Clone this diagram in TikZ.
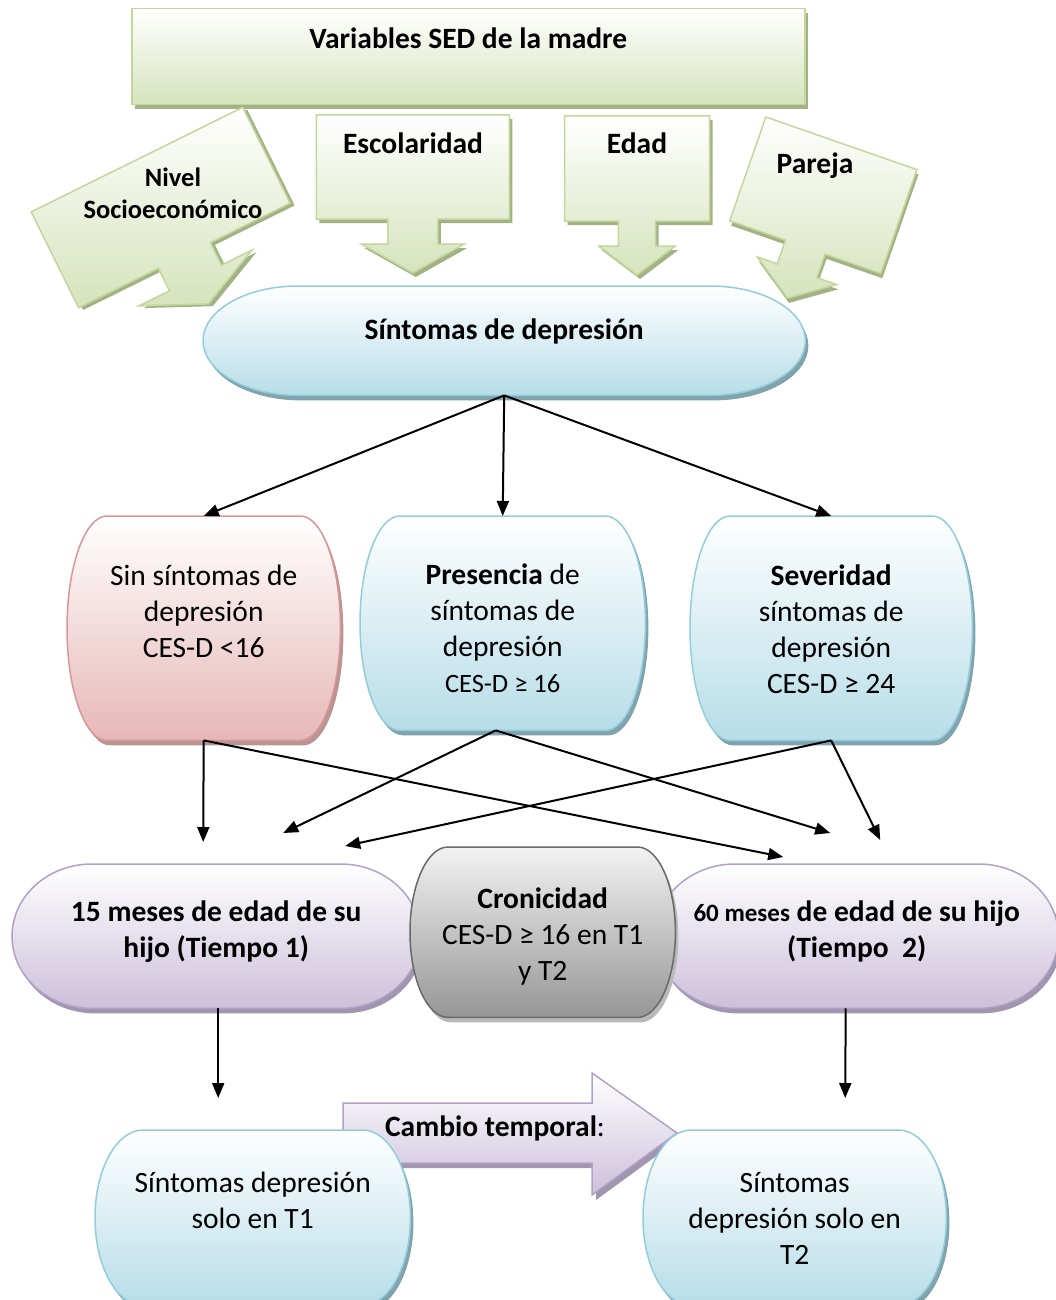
\documentclass[tikz,border=0pt]{standalone}
\usepackage{fontspec}
\setmainfont{Carlito}
\usepackage{xcolor}
\definecolor{greenline}{RGB}{195,214,155}
\definecolor{greenbot}{RGB}{214,227,188}
\definecolor{greenshade}{RGB}{163,178,133}
\definecolor{blueline}{RGB}{146,205,220}
\definecolor{bluebot}{RGB}{183,221,232}
\definecolor{blueshade}{RGB}{128,163,173}
\definecolor{pinkline}{RGB}{217,150,148}
\definecolor{pinkbot}{RGB}{230,184,183}
\definecolor{pinkshade}{RGB}{184,148,147}
\definecolor{purpleline}{RGB}{178,161,199}
\definecolor{purplebot}{RGB}{204,192,218}
\definecolor{purpleshade}{RGB}{160,150,176}
\definecolor{greyline}{RGB}{105,105,105}
\definecolor{greybot}{RGB}{150,150,150}
\definecolor{greyshade}{RGB}{185,185,185}
\usepackage{tikz}
\usetikzlibrary{positioning,arrows.meta,calc,backgrounds,shadows}

%% capsule outline round a named node: node, x radius, x offset, y offset
\newcommand{\capsule}[4]{%
  let \p1=(#1.north west), \p2=(#1.south east), \n1={(\y1-\y2)/2} in
  (\x1+#2+#3,\y1+#4) -- (\x2-#2+#3,\y1+#4)
  arc[start angle=90, end angle=-90, x radius=#2pt, y radius=\n1]
  -- (\x1+#2+#3,\y2+#4)
  arc[start angle=270, end angle=90, x radius=#2pt, y radius=\n1] -- cycle}

%% block arrow callout, origin in the middle of its top side
\newcommand{\calloutpath}[6]{%
  (-#1/2,0) -- (#1/2,0) -- (#1/2,-#2) -- (#3,-#2) -- (#3,-#2-#5)
  -- (#4,-#2-#5) -- (0,-#2-#5-#6) -- (-#4,-#2-#5) -- (-#3,-#2-#5)
  -- (-#3,-#2) -- (-#1/2,-#2) -- cycle}

\begin{document}
\begin{tikzpicture}[
  x=1pt, y=1pt,
  font=\fontsize{29.5}{36}\selectfont,
  every node/.style={inner sep=0pt, align=flush center},
  bold/.style={font=\fontsize{29.5}{36}\selectfont\bfseries},
  capbox/.style={anchor=north west},
  shapegreen/.style={top color=white, bottom color=greenbot, draw=greenline, line width=1.5pt},
  shapeblue/.style={top color=white, bottom color=bluebot, draw=blueline, line width=1.5pt},
  shapepink/.style={top color=white, bottom color=pinkbot, draw=pinkline, line width=1.5pt},
  shapepurple/.style={top color=white, bottom color=purplebot, draw=purpleline, line width=1.5pt},
  shapegrey/.style={top color=white!95!black, bottom color=greybot, draw=greyline, line width=1.5pt},
  arrow/.style={-{Triangle[length=15pt,width=12pt]}, line width=2pt, black}
]
\useasboundingbox (0,0) rectangle (1055,-1300);

%% Variables SED de la madre
\node (sed) [capbox, bold, text width=673pt, text height=40pt, text depth=56pt,
    shapegreen, drop shadow={shadow xshift=3pt, shadow yshift=-4pt, fill=greenshade, opacity=1}]
    at (131,-8) {Variables SED de la madre};

%% the four variables as block arrows
\foreach \cx/\cy/\rot/\bw/\bh/\sw/\hw in {137/-159.6/26.3/236/107/29/63,
    412.8/-115/0/193/104/25/51.5, 637/-116/0/145/105/18.7/38.4,
    841.4/-143.3/-19.2/160/110/21/42}{
  \begin{scope}[shift={(\cx,\cy)}, rotate=\rot]
    \fill[greenshade, shift={(3,-4)}] \calloutpath{\bw}{\bh}{\sw}{\hw}{25}{29};
    \path[shapegreen] \calloutpath{\bw}{\bh}{\sw}{\hw}{25}{29};
  \end{scope}
}
\node (nse) [font=\fontsize{26.5}{32}\selectfont\bfseries] at (173,-193) {Nivel\\Socioeconómico};
\node (esc) [bold] at (413,-143) {Escolaridad};
\node (edad) [bold] at (637,-143) {Edad};
\node (par) [bold] at (815,-166) {Pareja};

%% Síntomas de depresión
\node (sd) [capbox, bold, text width=602pt, text height=53pt, text depth=56pt]
    at (203,-286) {Síntomas de depresión};

%% categories
\node (sin) [capbox, text width=273pt, text height=69pt, text depth=155pt]
    at (67,-516) {Sin síntomas de\\depresión\\CES-D <16};
\node (pres) [capbox, text width=285pt, text height=68pt, text depth=146pt]
    at (360,-516) {\textbf{Presencia} de\\síntomas de\\depresión\\{\fontsize{26.5}{34}\selectfont CES-D ≥ 16}};
\node (sev) [capbox, text width=282pt, text height=69pt, text depth=155pt]
    at (690,-516) {\textbf{Severidad}\\síntomas de\\depresión\\CES-D ≥ 24};

%% times
\node (t1) [capbox, bold, text width=408pt, text height=57pt, text depth=87pt]
    at (12,-864) {15 meses de edad de su\\hijo (Tiempo 1)};
\node (t2) [capbox, bold, text width=403pt, text height=57pt, text depth=87pt]
    at (655,-864) {{\fontsize{25}{36}\selectfont 60 meses} de edad de su hijo\\(Tiempo\ \ 2)};
\node (cron) [capbox, text width=265pt, text height=61pt, text depth=109pt]
    at (410,-847) {\textbf{Cronicidad}\\CES-D ≥ 16 en T1\\y T2};

%% change over time
\node (s1) [capbox, text width=315pt, text height=62pt, text depth=113pt]
    at (95,-1130) {Síntomas depresión\\solo en T1};
\node (s2) [capbox, text width=303pt, text height=62pt, text depth=113pt]
    at (643,-1130) {Síntomas\\depresión solo en\\T2};
\node (cambio) at (495,-1128) {\textbf{Cambio temporal}:};

%% shapes behind the texts
\begin{scope}[on background layer]
  \foreach \nd/\rx/\col in {sd/95/blue, sin/40/pink, pres/40/blue, sev/40/blue,
      t1/80/purple, t2/80/purple, cron/38/grey}{
    \fill[\col shade] \capsule{\nd}{\rx}{3}{-5};
    \path[shape\col] \capsule{\nd}{\rx}{0}{0};
  }
  \fill[purpleshade] (347,-1108) -- (596,-1108) -- (596,-1078) -- (681,-1138)
    -- (596,-1200) -- (596,-1168) -- (347,-1168) -- cycle;
  \path[shapepurple] (343,-1103) -- (592,-1103) -- (592,-1073) -- (677,-1133)
    -- (592,-1195) -- (592,-1163) -- (343,-1163) -- cycle;
  \foreach \nd in {s1, s2}{
    \fill[blueshade] \capsule{\nd}{48}{3}{-5};
    \path[shapeblue] \capsule{\nd}{48}{0}{0};
  }
\end{scope}

%% Arrows: síntomas -> categories
\draw[arrow] (sd.south) -- (sin.north);
\draw[arrow] (sd.south) -- (pres.north);
\draw[arrow] (sd.south) -- (sev.north);

%% Arrows: categories -> times
\draw[arrow] (sin.south) -- ($(t1.north)+(-13,22)$);
\draw[arrow] (sin.south) -- ($(t2.north)+(-73.5,7)$);
\draw[arrow] ($(pres.south)+(-7,0)$) -- ($(t1.north)+(67,31)$);
\draw[arrow] ($(pres.south)+(-7,0)$) -- ($(t2.north)+(-26.5,31)$);
\draw[arrow] (sev.south) -- ($(t1.north)+(129,18)$);
\draw[arrow] (sev.south) -- ($(t2.north)+(23.5,24)$);

%% Arrows: times -> solo en T1 / T2
\draw[arrow] ($(t1.south)+(2,0)$) -- ($(s1.north)+(-34.5,32)$);
\draw[arrow] ($(t2.south)+(-11,0)$) -- ($(s2.north)+(50.5,32)$);

\end{tikzpicture}
\end{document}
